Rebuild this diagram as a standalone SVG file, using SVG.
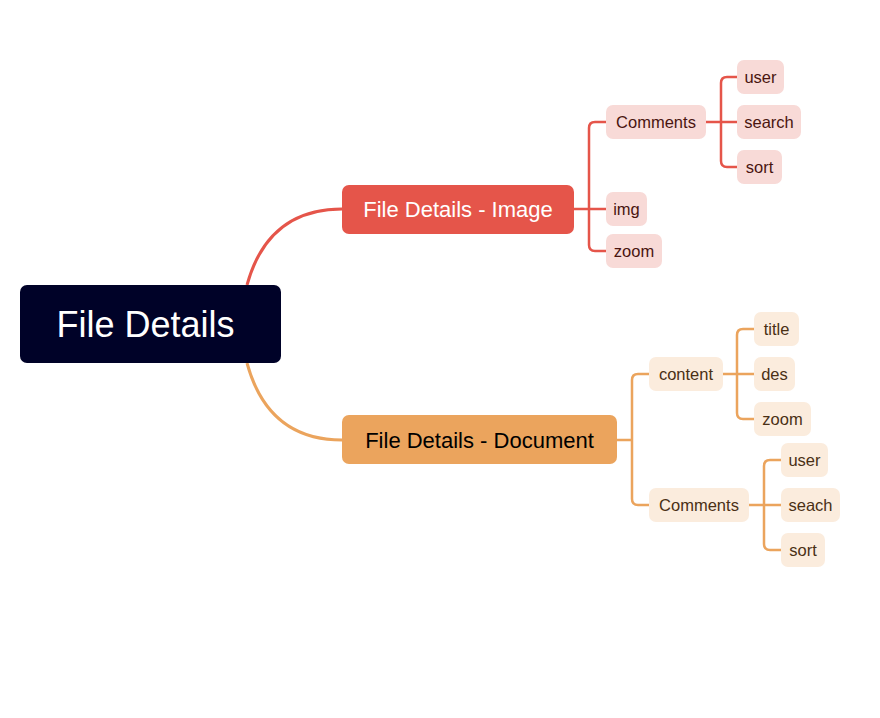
<svg xmlns="http://www.w3.org/2000/svg" width="880" height="718" viewBox="0 0 880 718">
<style>
text{font-family:"Liberation Sans",Arial,sans-serif}
.root rect{fill:#000228}
.root text{fill:#fff;font-size:36px}
.img1 rect{fill:#E5554A}
.img1 text{fill:#fff;font-size:22px}
.doc1 rect{fill:#EBA45D}
.doc1 text{fill:#000;font-size:22px}
.imgc rect{fill:#F8DAD7}
.imgc text{fill:#4A1510;font-size:16.5px}
.docc rect{fill:#FBECDD}
.docc text{fill:#4A3015;font-size:16.5px}
.cr{fill:none;stroke:#E5554A;stroke-width:2.5}
.co{fill:none;stroke:#EBA45D;stroke-width:2.5}
.main{stroke-width:3}
</style>
<rect width="880" height="718" fill="#fff"/>
<g id="connectors">
<path class="cr main" d="M247,285 Q268,209 342,209"/>
<path class="co main" d="M247,363 Q268,440 342,440"/>
<path class="cr" d="M574,209 H606 M606,122 H595 Q589,122 589,128 V245 Q589,251 595,251 H606"/>
<path class="cr" d="M706,122 H737 M737,77 H727 Q721,77 721,83 V161 Q721,167 727,167 H737"/>
<path class="co" d="M617,440 H632 M649,374 H638 Q632,374 632,380 V499 Q632,505 638,505 H649"/>
<path class="co" d="M723,374 H754 M754,329 H743 Q737,329 737,335 V413 Q737,419 743,419 H754"/>
<path class="co" d="M749,505 H781 M781,460 H770 Q764,460 764,466 V544 Q764,550 770,550 H781"/>
</g>
<g id="root" class="root"><rect x="20" y="285" width="261" height="78" rx="7"/><text x="145.5" y="337" text-anchor="middle">File Details</text></g>
<g id="image" class="img1"><rect x="342" y="185" width="232" height="49" rx="7"/><text x="458" y="217" text-anchor="middle">File Details - Image</text></g>
<g id="document" class="doc1"><rect x="342" y="415" width="275" height="49" rx="7"/><text x="479.5" y="448" text-anchor="middle">File Details - Document</text></g>
<g id="img-comments" class="imgc"><rect x="606" y="105" width="100" height="34" rx="7"/><text x="656" y="128" text-anchor="middle">Comments</text></g>
<g id="img-img" class="imgc"><rect x="606" y="192" width="41" height="34" rx="7"/><text x="626.5" y="215" text-anchor="middle">img</text></g>
<g id="img-zoom" class="imgc"><rect x="606" y="234" width="56" height="34" rx="7"/><text x="634" y="257" text-anchor="middle">zoom</text></g>
<g id="img-user" class="imgc"><rect x="737" y="60" width="47" height="34" rx="7"/><text x="760.5" y="83" text-anchor="middle">user</text></g>
<g id="img-search" class="imgc"><rect x="737" y="105" width="64" height="34" rx="7"/><text x="769" y="128" text-anchor="middle">search</text></g>
<g id="img-sort" class="imgc"><rect x="737" y="150" width="45" height="34" rx="7"/><text x="759.5" y="173" text-anchor="middle">sort</text></g>
<g id="doc-content" class="docc"><rect x="649" y="357" width="74" height="34" rx="7"/><text x="686" y="380" text-anchor="middle">content</text></g>
<g id="doc-comments" class="docc"><rect x="649" y="488" width="100" height="34" rx="7"/><text x="699" y="511" text-anchor="middle">Comments</text></g>
<g id="doc-title" class="docc"><rect x="754" y="312" width="45" height="34" rx="7"/><text x="776.5" y="335" text-anchor="middle">title</text></g>
<g id="doc-des" class="docc"><rect x="754" y="357" width="41" height="34" rx="7"/><text x="774.5" y="380" text-anchor="middle">des</text></g>
<g id="doc-zoom" class="docc"><rect x="754" y="402" width="57" height="34" rx="7"/><text x="782.5" y="425" text-anchor="middle">zoom</text></g>
<g id="doc-user" class="docc"><rect x="781" y="443" width="47" height="34" rx="7"/><text x="804.5" y="466" text-anchor="middle">user</text></g>
<g id="doc-seach" class="docc"><rect x="781" y="488" width="59" height="34" rx="7"/><text x="810.5" y="511" text-anchor="middle">seach</text></g>
<g id="doc-sort" class="docc"><rect x="781" y="533" width="44" height="34" rx="7"/><text x="803" y="556" text-anchor="middle">sort</text></g>
</svg>
